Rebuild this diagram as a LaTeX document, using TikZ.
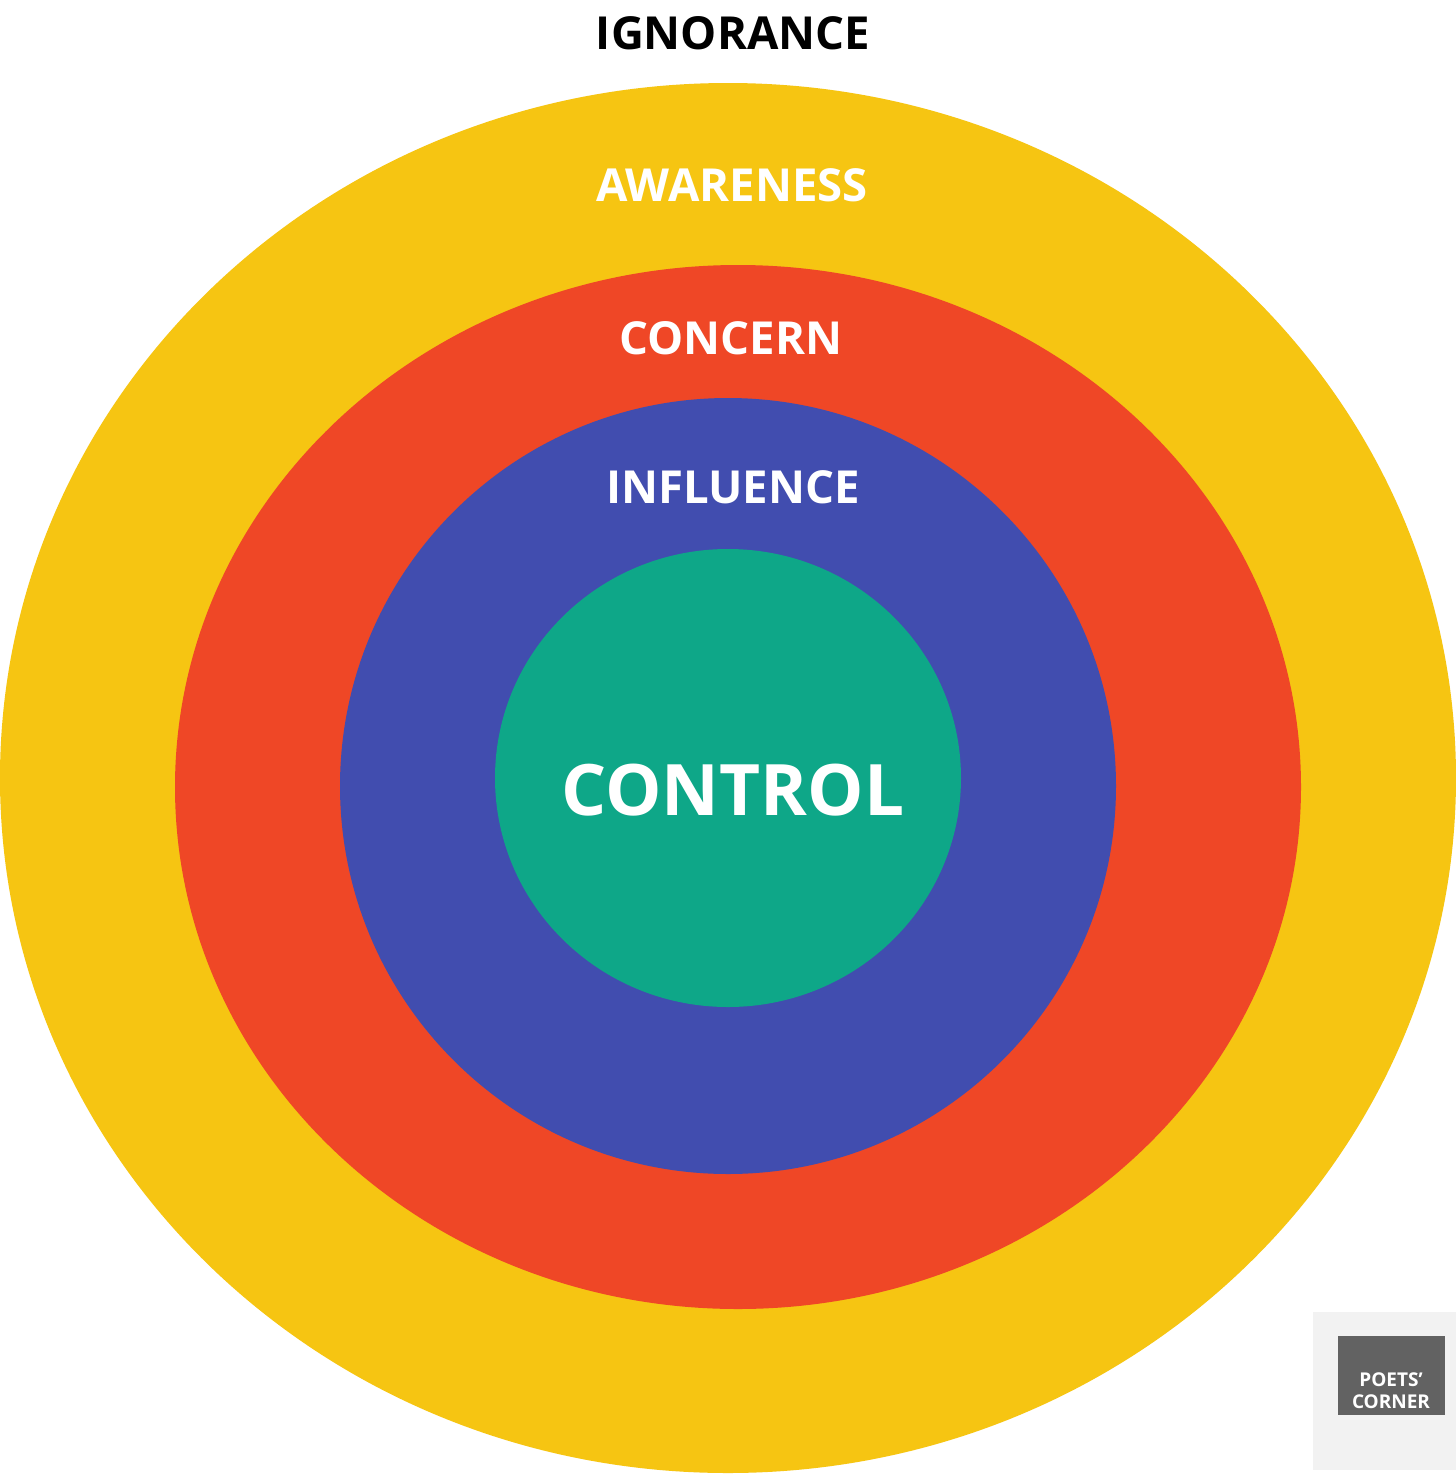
\documentclass[tikz,border=0pt]{standalone}
\usepackage{fontspec}
\setmainfont{Open Sans}
\definecolor{cyel}{HTML}{F6C512}
\definecolor{cred}{HTML}{EF4726}
\definecolor{cblue}{HTML}{414DAF}
\definecolor{cgreen}{HTML}{0EA788}
\definecolor{clogo}{HTML}{626262}
\begin{document}
\begin{tikzpicture}[x=1pt,y=-1pt,
 lab/.style={font=\fontsize{45.5}{46}\selectfont\bfseries,text=white,inner sep=0pt}]
\useasboundingbox (0,0) rectangle (1456,1484);
\fill[white] (0,0) rectangle (1456,1484);
\fill[cyel] (728,778) ellipse [x radius=728, y radius=695];
\fill[cred] (738,787) ellipse [x radius=563, y radius=522];
\fill[cblue] (728,786) ellipse [x radius=388, y radius=388];
\fill[cgreen] (728,778) ellipse [x radius=233, y radius=229];
\node[lab,text=black] (ign) at (733,33) {IGNORANCE};
\node[lab] (awa) at (732,185) {AWARENESS};
\node[lab] (con) at (731,338) {CONCERN};
\node[lab] (inf) at (733,487) {INFLUENCE};
\node[lab,font=\fontsize{71}{71}\selectfont\bfseries] (ctl) at (733,790) {CONTROL};
\fill[black!5] (1313,1312) rectangle (1456,1470);
\fill[clogo] (1338,1336) rectangle (1445,1415);
\node[text=white,font=\fontsize{19}{22}\selectfont\bfseries,align=center,inner sep=0pt] (logo) at (1391,1391) {POETS’\\CORNER};
\end{tikzpicture}
\end{document}
